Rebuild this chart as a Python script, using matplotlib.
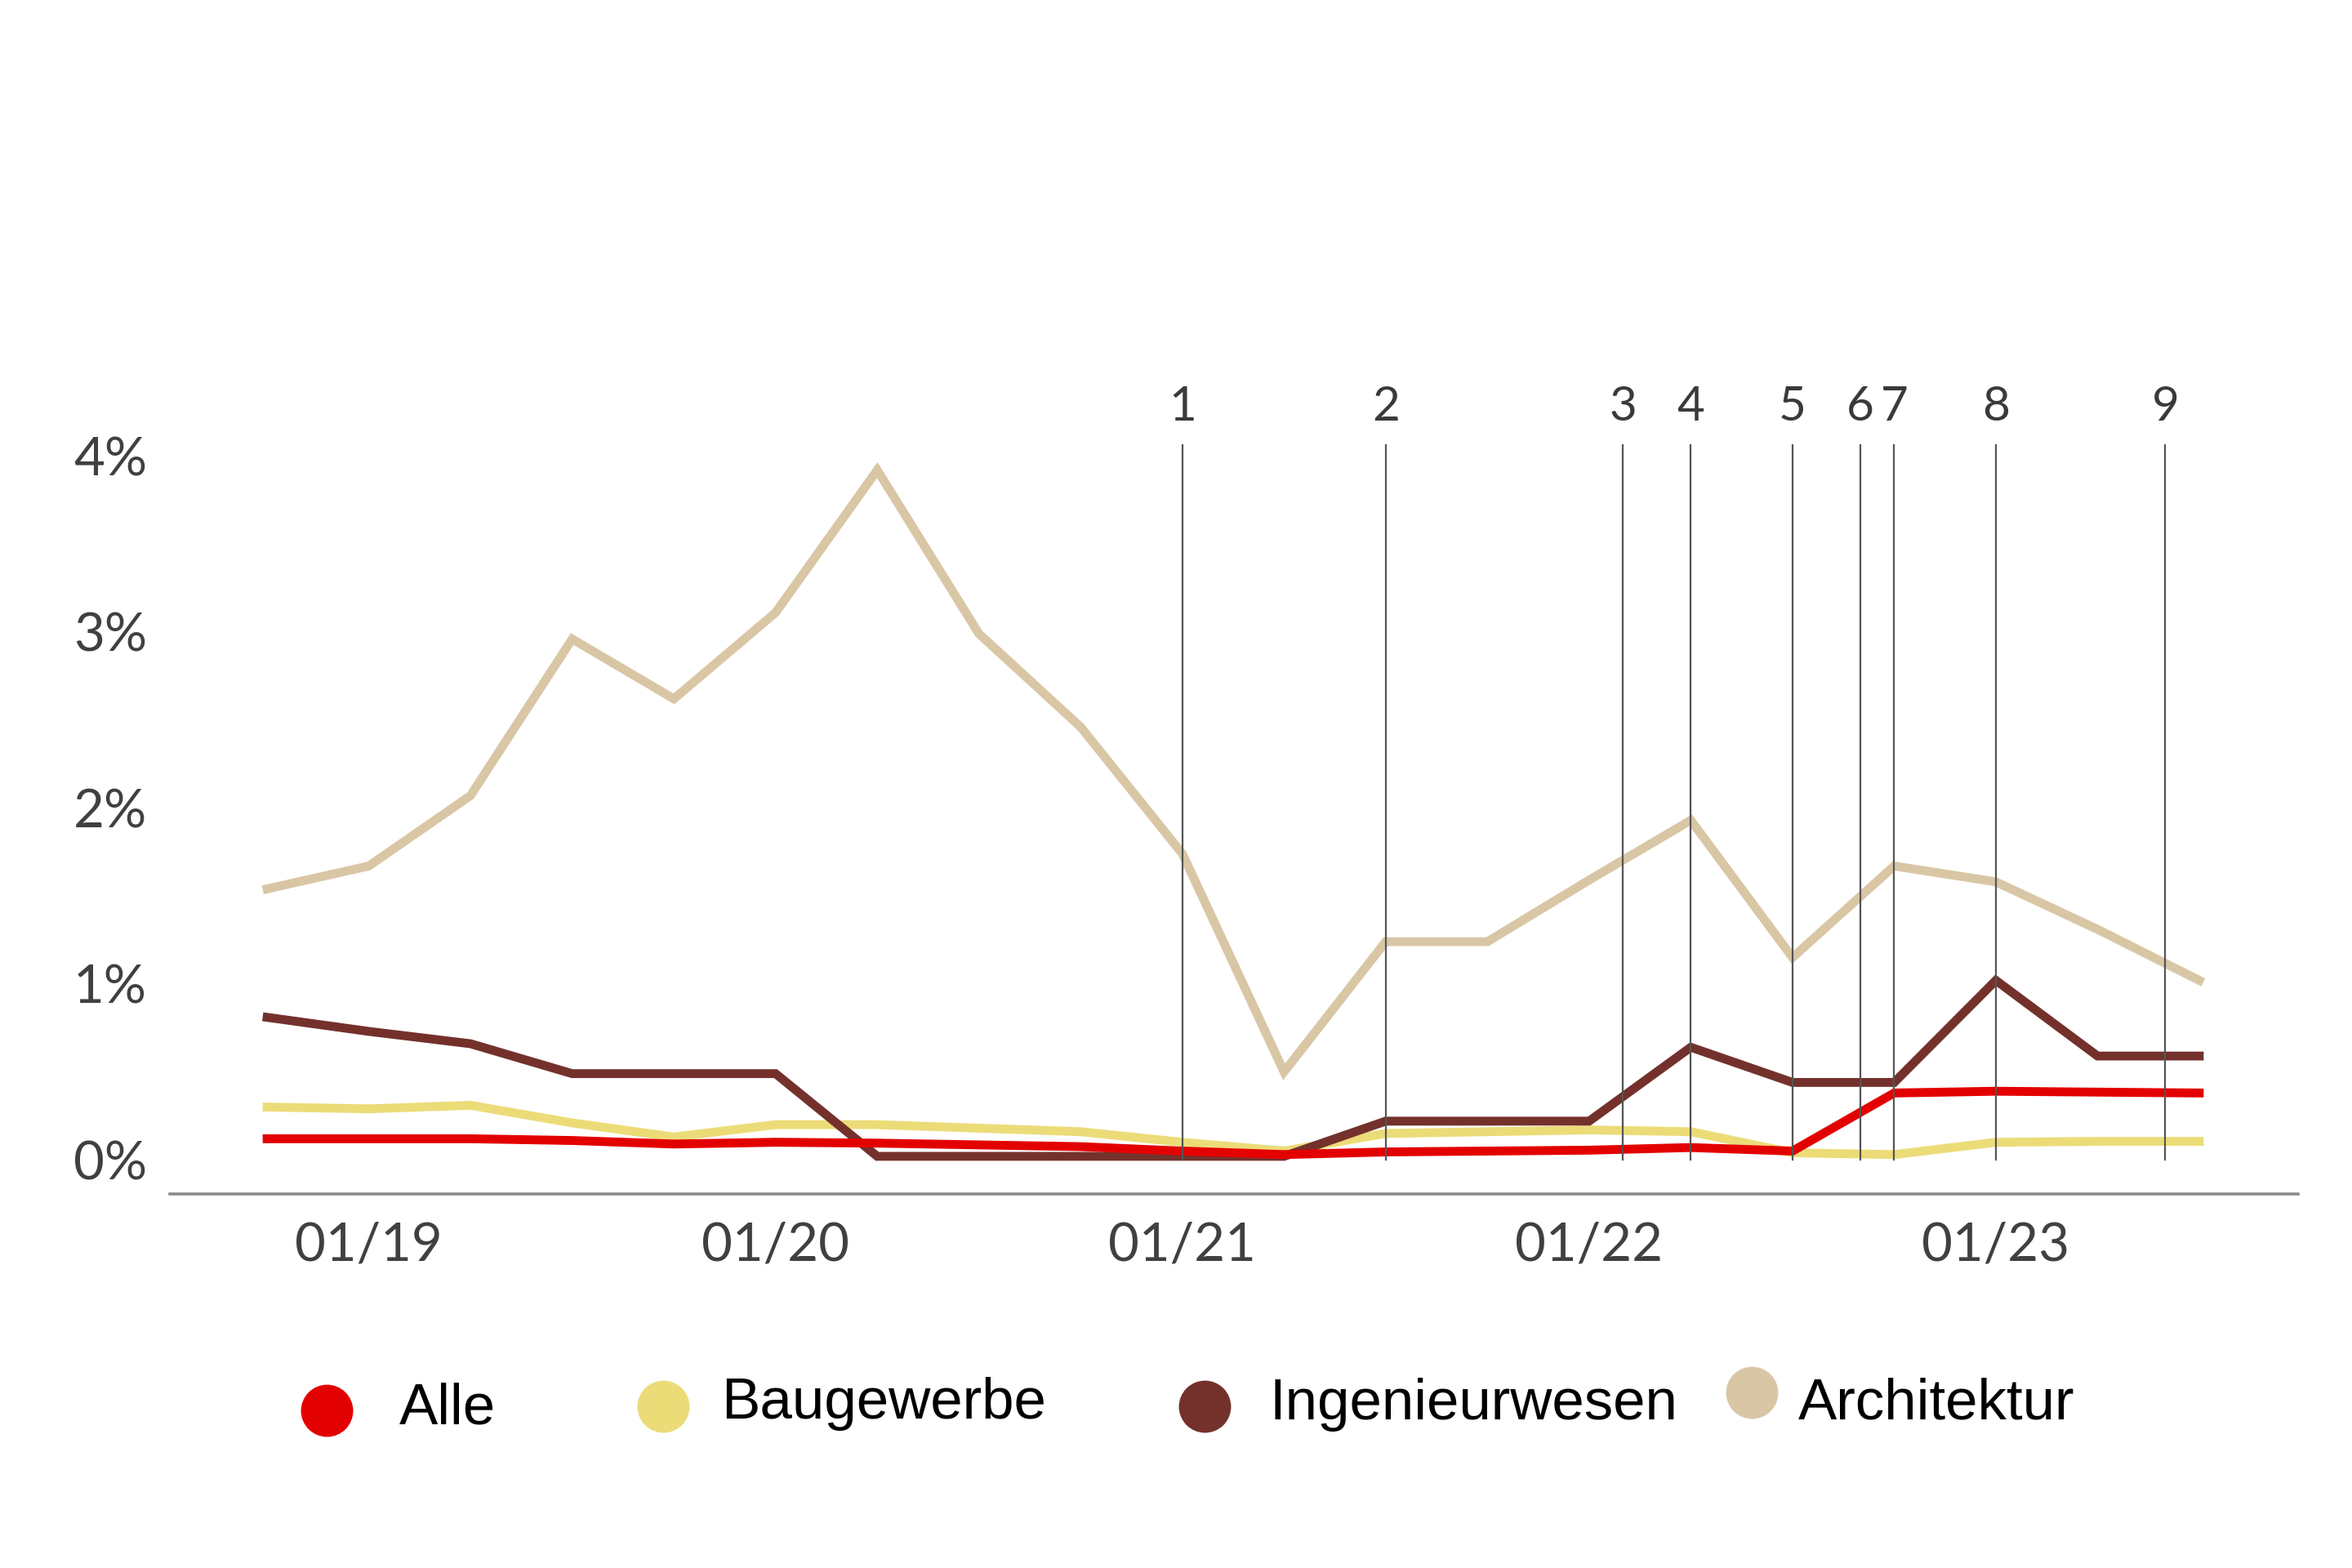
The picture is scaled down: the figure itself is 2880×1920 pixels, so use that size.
import matplotlib
matplotlib.use("Agg")
import matplotlib.pyplot as plt
from matplotlib.lines import Line2D

# quarterly values in %, 10/18 .. 07/23
quarters = ["10/18", "01/19", "04/19", "07/19", "10/19", "01/20", "04/20", "07/20",
            "10/20", "01/21", "04/21", "07/21", "10/21", "01/22", "04/22", "07/22",
            "10/22", "01/23", "04/23", "07/23"]
alle = [0.12, 0.12, 0.12, 0.11, 0.09, 0.10, 0.095, 0.085, 0.075, 0.05,
        0.03, 0.045, 0.05, 0.055, 0.07, 0.05, 0.38, 0.39, 0.385, 0.38]
baugewerbe = [0.30, 0.29, 0.31, 0.21, 0.13, 0.20, 0.20, 0.18, 0.16, 0.10,
              0.05, 0.15, 0.16, 0.17, 0.16, 0.04, 0.03, 0.10, 0.105, 0.105]
ingenieurwesen = [0.81, 0.73, 0.66, 0.49, 0.49, 0.49, 0.02, 0.02, 0.02, 0.02,
                  0.02, 0.22, 0.22, 0.22, 0.64, 0.44, 0.44, 1.02, 0.59, 0.59]
architektur = [1.54, 1.67, 2.07, 2.96, 2.62, 3.11, 3.92, 2.99, 2.46, 1.74,
               0.50, 1.24, 1.24, 1.59, 1.93, 1.15, 1.67, 1.58, 1.31, 1.02]

series_names = ["Alle", "Baugewerbe", "Ingenieurwesen", "Architektur"]
series_colors = ["#e30000", "#ecdc78", "#74312c", "#d9c6a5"]

tick_labels = ["01/19", "01/20", "01/21", "01/22", "01/23"]
yticks = [0, 1, 2, 3, 4]

# numbered events (month/year)
event_labels = ["1", "2", "3", "4", "5", "6", "7", "8", "9"]
event_months = ["01/21", "07/21", "02/22", "04/22", "07/22", "09/22", "10/22", "01/23", "06/23"]


def month_pos(lbl):
    # position in quarter steps, 0 = 10/18
    m, y = lbl.split("/")
    return ((int(y) - 18) * 12 + int(m) - 10) / 3


tick_family = ["Lato", "DejaVu Sans"]

fig = plt.figure(figsize=(14.4, 9.6), dpi=200)
ax = fig.add_axes([0.0721, 0.2383, 0.9049, 0.5382])

x = [month_pos(q) for q in quarters]
data = [alle, baugewerbe, ingenieurwesen, architektur]
zorders = [5, 3, 4, 2]
for vals, col, z in zip(data, series_colors, zorders):
    ax.plot(x, vals, color=col, lw=3.9, zorder=z, solid_joinstyle="miter")

for lbl, m in zip(event_labels, event_months):
    xp = month_pos(m)
    ax.plot([xp, xp], [0.0, 4.06], color="#555555", lw=0.8, zorder=6)
    ax.text(xp, 4.28, lbl, ha="center", va="center", fontsize=21,
            color="#3a3a3a", family=tick_family)

ax.set_xlim(-0.959, 19.97)
ax.set_ylim(-0.196, 4.6)

ax.set_xticks([month_pos(t) for t in tick_labels])
ax.set_xticklabels(tick_labels)
ax.set_yticks(yticks)
ax.set_yticklabels([f"{v}%" for v in yticks])
for t in ax.get_xticklabels() + ax.get_yticklabels():
    t.set_fontfamily(tick_family)
    t.set_fontsize(23.5)
    t.set_color("#404040")
ax.tick_params(axis="both", length=0)
ax.tick_params(axis="x", pad=12)
ax.tick_params(axis="y", pad=10)

for side in ["top", "right", "left"]:
    ax.spines[side].set_visible(False)
ax.spines["bottom"].set_color("#8a8a8a")
ax.spines["bottom"].set_linewidth(1.3)

# legend, placed by hand as in the original
marker_xy = [(0.139, 0.1005), (0.2818, 0.103), (0.5121, 0.103), (0.7449, 0.112)]
text_xy = [(0.1697, 0.092), (0.3068, 0.0955), (0.5396, 0.095), (0.7647, 0.095)]
for name, col, (mx, my), (tx, ty) in zip(series_names, series_colors, marker_xy, text_xy):
    fig.add_artist(Line2D([mx], [my], marker="o", markersize=23, color=col,
                          markeredgewidth=0, transform=fig.transFigure))
    fig.text(tx, ty, name, fontsize=25.5, color="black",
             family=["Liberation Sans", "DejaVu Sans"], va="baseline")

fig.savefig("out.png", dpi=200, facecolor="white")
